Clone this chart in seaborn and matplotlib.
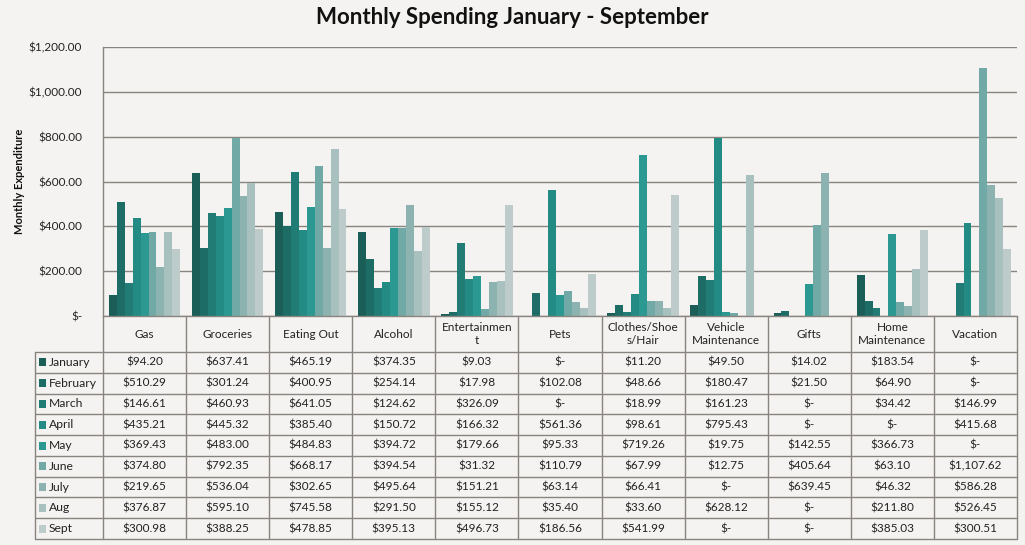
import numpy as np
import pandas as pd
import seaborn as sns
import matplotlib
matplotlib.use("Agg")
import matplotlib.pyplot as plt
import matplotlib.transforms as mtransforms
from matplotlib.lines import Line2D
from matplotlib.patches import Rectangle
from matplotlib.ticker import FuncFormatter

# ---------------- data ----------------
categories = ["Gas", "Groceries", "Eating Out", "Alcohol", "Entertainment", "Pets",
              "Clothes/Shoes/Hair", "Vehicle Maintenance", "Gifts", "Home Maintenance", "Vacation"]
category_labels = ["Gas", "Groceries", "Eating Out", "Alcohol", "Entertainmen\nt", "Pets",
                   "Clothes/Shoe\ns/Hair", "Vehicle\nMaintenance", "Gifts", "Home\nMaintenance", "Vacation"]
months = ["January", "February", "March", "April", "May", "June", "July", "Aug", "Sept"]

january  = [94.20, 637.41, 465.19, 374.35, 9.03, 0, 11.20, 49.50, 14.02, 183.54, 0]
february = [510.29, 301.24, 400.95, 254.14, 17.98, 102.08, 48.66, 180.47, 21.50, 64.90, 0]
march    = [146.61, 460.93, 641.05, 124.62, 326.09, 0, 18.99, 161.23, 0, 34.42, 146.99]
april    = [435.21, 445.32, 385.40, 150.72, 166.32, 561.36, 98.61, 795.43, 0, 0, 415.68]
may      = [369.43, 483.00, 484.83, 394.72, 179.66, 95.33, 719.26, 19.75, 142.55, 366.73, 0]
june     = [374.80, 792.35, 668.17, 394.54, 31.32, 110.79, 67.99, 12.75, 405.64, 63.10, 1107.62]
july     = [219.65, 536.04, 302.65, 495.64, 151.21, 63.14, 66.41, 0, 639.45, 46.32, 586.28]
aug      = [376.87, 595.10, 745.58, 291.50, 155.12, 35.40, 33.60, 628.12, 0, 211.80, 526.45]
sept     = [300.98, 388.25, 478.85, 395.13, 496.73, 186.56, 541.99, 0, 0, 385.03, 300.51]

series = [january, february, march, april, may, june, july, aug, sept]
y_ticks = [0, 200, 400, 600, 800, 1000, 1200]

colors = ["#1b5e58", "#1e6c66", "#207c75", "#238b84", "#2b9991",
          "#70a9a5", "#8db3b0", "#a8c0be", "#bdcbca"]

rows = []
for m, vals in zip(months, series):
    for c, v in zip(categories, vals):
        rows.append({"Category": c, "Month": m, "Spend": v})
df = pd.DataFrame(rows)

# ---------------- figure ----------------
W, H = 1025, 545
BG = "#f4f3f1"
GRID = "#8a8480"
sns.set_theme(style="white")
plt.rcParams["font.family"] = ["Lato", "DejaVu Sans"]

fig = plt.figure(figsize=(W / 100, H / 100), dpi=100, facecolor=BG)

def fy(py):
    return 1 - py / H

def fx(px):
    return px / W

ax_left, ax_right, ax_top, ax_bot = 103, 1017, 47, 316
ax = fig.add_axes([fx(ax_left), fy(ax_bot), fx(ax_right - ax_left), (ax_bot - ax_top) / H])
ax.set_facecolor(BG)

sns.barplot(data=df, x="Category", y="Spend", hue="Month", order=categories,
            hue_order=months, palette=colors, width=0.86, gap=0, saturation=1,
            linewidth=0, errorbar=None, legend=False, ax=ax)

ax.set_xlim(-0.5, len(categories) - 0.5)
ax.set_ylim(0, 1200)
ax.set_yticks(y_ticks)
ax.yaxis.set_major_formatter(FuncFormatter(lambda v, p: "$-" if v == 0 else f"${v:,.2f}"))
ax.tick_params(axis="y", labelsize=8.5, length=4, color=GRID, pad=11, labelcolor="#222222")
ax.set_xticks([])
ax.set_xlabel("")
ax.set_ylabel("")
ax.grid(axis="y", color=GRID, linewidth=1)
ax.set_axisbelow(True)
for s in ["top", "right"]:
    ax.spines[s].set_visible(False)
ax.spines["left"].set_color(GRID)
ax.spines["bottom"].set_color(GRID)
ax.spines["left"].set_linewidth(1)
ax.spines["bottom"].set_linewidth(1)

fig.text(0.5, fy(17), "Monthly Spending January - September", ha="center", va="center",
         fontsize=16, fontweight="bold", color="#111111")
fig.text(fx(20), fy(181), "Monthly Expenditure", rotation=90, ha="center", va="center",
         fontsize=8, fontweight="bold", color="#111111")

# ---------------- data table ----------------
blend = mtransforms.blended_transform_factory(ax.transData, fig.transFigure)
header_top, header_bot, table_bot = 316, 352, 539
row_h = (table_bot - header_bot) / len(months)
tab_left = 35

# horizontal lines
for j in range(len(months) + 1):
    py = header_bot + j * row_h
    fig.add_artist(Line2D([fx(tab_left), fx(ax_right)], [fy(py), fy(py)],
                          transform=fig.transFigure, color=GRID, lw=1))
fig.add_artist(Line2D([fx(tab_left), fx(tab_left)], [fy(header_bot), fy(table_bot)],
                      transform=fig.transFigure, color=GRID, lw=1))
# vertical lines in data x
for i in range(len(categories) + 1):
    xpos = i - 0.5
    ax.add_artist(Line2D([xpos, xpos], [fy(header_top), fy(table_bot)],
                         transform=blend, color=GRID, lw=1, clip_on=False))

# header labels
for i, lab in enumerate(category_labels):
    ax.text(i, fy((header_top + header_bot) / 2), lab, transform=blend, ha="center",
            va="center", fontsize=8.5, color="#222222", linespacing=1.3, clip_on=False)

# month rows
for j, (m, vals) in enumerate(zip(months, series)):
    cy = fy(header_bot + (j + 0.5) * row_h)
    fig.add_artist(Rectangle((fx(39), cy - 4 / H), 7 / W, 8 / H, transform=fig.transFigure,
                             facecolor=colors[j], edgecolor="none"))
    fig.text(fx(49), cy, m, ha="left", va="center", fontsize=8.7, color="#222222")
    for i, v in enumerate(vals):
        txt = "$-" if v == 0 else f"${v:,.2f}"
        ax.text(i, cy, txt, transform=blend, ha="center", va="center",
                fontsize=8.5, color="#222222", clip_on=False)

fig.savefig("out.png", dpi=100, facecolor=BG)
